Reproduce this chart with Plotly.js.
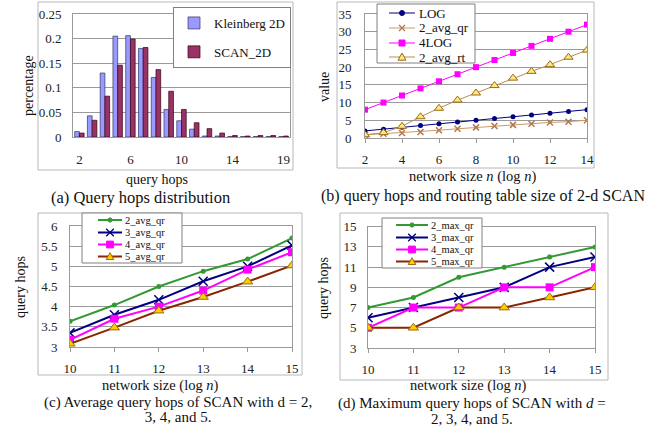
<!DOCTYPE html>
<html><head><meta charset="utf-8">
<script src="https://cdn.plot.ly/plotly-3.0.1.min.js"></script>
<style>html,body{margin:0;padding:0;background:#fff}#chart{width:648px;height:434px}</style>
</head><body><div id="chart"></div>
<script>
// ---------- (a) Query hops distribution ----------
const hopCategories = ["2","3","4","5","6","7","8","9","10","11","12","13","14","15","16","17","19"];
const hopTickLabels = ["2","6","10","14","19"];
const kleinberg2D = [0.011,0.043,0.130,0.205,0.206,0.180,0.121,0.056,0.033,0.016,0.002,0.002,0.001,0.001,0.001,0.001,0.001];
const scan2D      = [0.008,0.034,0.083,0.146,0.199,0.182,0.137,0.093,0.056,0.029,0.017,0.008,0.003,0.002,0.003,0.003,0.002];

// ---------- (b) query hops and routing table size of 2-d SCAN ----------
const networkSizeLog = [2,3,4,5,6,7,8,9,10,11,12,13,14];
const logValues   = [2,2.5,3,3.5,4,4.5,5,5.5,6,6.5,7,7.5,8];
const avgQr2d     = [0.9,1.2,1.4,1.7,2.2,2.6,3.0,3.4,3.7,4.0,4.4,4.6,5.0];
const fourLog     = [8,10,12,14,16,18,20,22,24,26,28,30,32];
const avgRt2d     = [0.9,1.5,3.3,6.0,8.4,10.7,12.7,14.8,16.9,18.8,20.7,22.8,24.8];

// ---------- (c) Average query hops ----------
const networkSizeCD = [10,11,12,13,14,15];
const avgQr2 = [3.64,4.04,4.50,4.88,5.18,5.70];
const avgQr3 = [3.35,3.80,4.17,4.63,5.00,5.52];
const avgQr4 = [3.18,3.70,4.00,4.40,4.92,5.35];
const avgQr5 = [3.08,3.48,3.90,4.24,4.62,5.02];

// ---------- (d) Maximum query hops ----------
const maxQr2 = [7,8,10,11,12,13];
const maxQr3 = [6,7,8,9,11,12];
const maxQr4 = [5,7,7,9,9,11];
const maxQr5 = [5,5,7,7,8,9];

const W = 648, H = 434;
const X = p => p / W;
const Y = p => 1 - p / H;
const FONT = 'Liberation Serif, Times New Roman, serif';
const GRID = '#9a9a9a';

const GREEN = '#339933', NAVY = '#000080', MAGENTA = '#FF00FF', BROWN = '#8B2500';
const TAN = '#CC9966', RT = '#B8904A', TRI_FILL = '#FFCC00', TRI_LINE = '#9A6A10';

function lineTrace(name, x, y, ax, color, width, symbol, size, fill, stroke) {
  const marker = {symbol:symbol, size:size, color:fill};
  if (stroke) marker.line = {color:stroke, width: symbol === 'x-thin' ? 1.5 : 1};
  return {type:'scatter', mode:'lines+markers', name:name, x:x, y:y, xaxis:'x'+ax, yaxis:'y'+ax,
          line:{color:color, width:width}, marker:marker, showlegend:false};
}

const barTraces = [
  {type:'bar', name:'Kleinberg 2D', x:hopCategories, y:kleinberg2D, xaxis:'x', yaxis:'y',
   marker:{color:'#9999FF', line:{color:'#333366', width:0.7}}, legend:'legend', legendgroup:'a1'},
  {type:'bar', name:'SCAN_2D', x:hopCategories, y:scan2D, xaxis:'x', yaxis:'y',
   marker:{color:'#993366', line:{color:'#330011', width:0.7}}, legend:'legend', legendgroup:'a2'}
];
const tracesB = [
  lineTrace('LOG', networkSizeLog, logValues, 2, NAVY, 1, 'circle', 5, NAVY),
  lineTrace('2_avg_qr', networkSizeLog, avgQr2d, 2, TAN, 1, 'x-thin', 6, TAN, '#B07850'),
  lineTrace('4LOG', networkSizeLog, fourLog, 2, MAGENTA, 1, 'square', 6, MAGENTA),
  lineTrace('2_avg_rt', networkSizeLog, avgRt2d, 2, RT, 1, 'triangle-up', 8, '#FFE680', TRI_LINE)
];
const tracesC = [
  lineTrace('2_avg_qr', networkSizeCD, avgQr2, 3, GREEN, 2, 'circle', 5, GREEN),
  lineTrace('3_avg_qr', networkSizeCD, avgQr3, 3, NAVY, 2, 'x-thin', 9, NAVY, NAVY),
  lineTrace('4_avg_qr', networkSizeCD, avgQr4, 3, MAGENTA, 2, 'square', 8, MAGENTA),
  lineTrace('5_avg_qr', networkSizeCD, avgQr5, 3, BROWN, 2, 'triangle-up', 9, TRI_FILL, TRI_LINE)
];
const tracesD = [
  lineTrace('2_max_qr', networkSizeCD, maxQr2, 4, GREEN, 2, 'circle', 5, GREEN),
  lineTrace('3_max_qr', networkSizeCD, maxQr3, 4, NAVY, 2, 'x-thin', 9, NAVY, NAVY),
  lineTrace('4_max_qr', networkSizeCD, maxQr4, 4, MAGENTA, 2, 'square', 8, MAGENTA),
  lineTrace('5_max_qr', networkSizeCD, maxQr5, 4, BROWN, 2, 'triangle-up', 9, TRI_FILL, TRI_LINE)
];
const traces = barTraces.concat(tracesB, tracesC, tracesD);

function axisBase(extra) {
  return Object.assign({
    showline:true, mirror:true, linecolor:GRID, linewidth:1,
    gridcolor:GRID, gridwidth:1, zeroline:false, fixedrange:true,
    tickfont:{family:FONT, size:13, color:'#222'}
  }, extra);
}

function frame(x0, y0, x1, y1) {
  return {type:'rect', xref:'paper', yref:'paper', x0:X(x0), x1:X(x1), y0:Y(y1), y1:Y(y0),
          line:{color:'#b8b8b8', width:1}, fillcolor:'rgba(0,0,0,0)', layer:'below'};
}

function label(text, x, y, size, angle, anchor) {
  return {text:text, x:X(x), y:Y(y), xref:'paper', yref:'paper', showarrow:false,
          xanchor:anchor || 'center', yanchor:'middle', textangle:angle || 0, borderpad:0,
          font:{family:FONT, size:size, color:'#111'}};
}

// two-line caption: text drawn at `size`, line pitch set by the smaller base font
function caption(lines, x, y, size, pitchFont) {
  const txt = lines.map(l => `<span style="font-size:${size}px">${l}</span>`).join('<br>');
  return label(txt, x, y, pitchFont);
}

const shapes = [frame(38, 2, 293, 170), frame(337, 2, 594, 168), frame(38, 213, 302, 375), frame(340, 213, 608, 380)];
const annotations = [];

function keyLegend(list, box, rows, sx0, sx1, tx, fontSize, markScale) {
  shapes.push({type:'rect', xref:'paper', yref:'paper', layer:'above',
               x0:X(box[0]), x1:X(box[2]), y0:Y(box[3]), y1:Y(box[1]),
               fillcolor:'#ffffff', line:{color:'#808080', width:1}});
  list.forEach((t, i) => {
    const cy = rows[i], cx = (sx0 + sx1) / 2;
    shapes.push({type:'line', xref:'paper', yref:'paper', layer:'above',
                 x0:X(sx0), x1:X(sx1), y0:Y(cy), y1:Y(cy), line:{color:t.line.color, width:t.line.width}});
    const r = t.marker.size * markScale / 2;
    const fill = t.marker.color;
    const stroke = t.marker.line ? t.marker.line.color : fill;
    const sym = t.marker.symbol;
    let s;
    if (sym === 'circle' || sym === 'square') {
      s = {type: sym === 'circle' ? 'circle' : 'rect', x0:X(cx - r), x1:X(cx + r), y0:Y(cy + r), y1:Y(cy - r),
           fillcolor:fill, line:{color:stroke, width:1}};
    } else if (sym === 'triangle-up') {
      s = {type:'path', path:`M ${X(cx - r)},${Y(cy + r * 0.8)} L ${X(cx + r)},${Y(cy + r * 0.8)} L ${X(cx)},${Y(cy - r)} Z`,
           fillcolor:fill, line:{color:stroke, width:1}};
    } else {
      s = {type:'path', path:`M ${X(cx - r)},${Y(cy - r)} L ${X(cx + r)},${Y(cy + r)} M ${X(cx - r)},${Y(cy + r)} L ${X(cx + r)},${Y(cy - r)}`,
           line:{color:stroke, width:1.3}};
    }
    shapes.push(Object.assign({xref:'paper', yref:'paper', layer:'above'}, s));
    annotations.push(label(t.name, tx, cy, fontSize, 0, 'left'));
  });
}

keyLegend(tracesB, [377, 4, 475, 63], [13, 28, 43, 57], 389, 415, 418, 13, 1);
keyLegend(tracesC, [82, 213, 182, 263], [220, 232.5, 244.5, 256.5], 98, 122, 124, 10.5, 0.85);
keyLegend(tracesD, [382, 218, 482, 268], [225, 237.5, 249.5, 261.5], 396, 428, 430, 10.5, 0.85);

annotations.push(
  label('percentage', 28, 86, 14, -90),
  label('query hops', 157, 179, 14),
  label('(a) Query hops distribution', 140, 197, 16.5),

  label('value', 325, 87, 14, -90),
  label('network size <i>n</i> (log <i>n</i>)', 472, 176, 14.5),
  label('(b) query hops and routing table size of 2-d SCAN', 483, 196, 16),

  label('query hops', 20, 287, 14, -90),
  label('network size (log <i>n</i>)', 160, 385, 14.5),
  caption(['(c) Average query hops of SCAN with d = 2,', '3, 4, and 5.'], 178, 409, 15, 11.5),

  label('query hops', 323, 288, 14, -90),
  label('network size (log <i>n</i>)', 468, 385, 14.5),
  caption(['(d) Maximum query hops of SCAN with <i>d</i> =', '2, 3, 4, and 5.'], 472, 411, 15, 12)
);

const layout = {
  width:W, height:H, margin:{l:0, r:0, t:0, b:0},
  paper_bgcolor:'#fff', plot_bgcolor:'#fff',
  barmode:'group', bargap:0.26, bargroupgap:0,
  xaxis: axisBase({domain:[X(73), X(290)], anchor:'y', type:'category', categoryarray:hopCategories,
          tickmode:'array', tickvals:hopTickLabels, showgrid:false, ticks:'', ticklabelstandoff:10}),
  yaxis: axisBase({domain:[Y(137), Y(14)], anchor:'x', range:[0,0.25], dtick:0.05, ticks:'', ticklabelstandoff:8}),

  xaxis2: axisBase({domain:[X(365), X(587)], anchor:'y2', range:[2,14], dtick:2, showgrid:false,
          ticks:'outside', ticklen:4, tickcolor:GRID, ticklabelstandoff:5}),
  yaxis2: axisBase({domain:[Y(138), Y(14)], anchor:'x2', range:[0,35], dtick:5, ticks:'', ticklabelstandoff:10}),

  xaxis3: axisBase({domain:[X(70), X(292)], anchor:'y3', range:[10,15], dtick:1, showgrid:false,
          ticks:'outside', ticklen:4, tickcolor:GRID, ticklabelstandoff:5}),
  yaxis3: axisBase({domain:[Y(347), Y(226)], anchor:'x3', range:[3,6], dtick:0.5, ticks:'', ticklabelstandoff:9}),

  xaxis4: axisBase({domain:[X(368), X(595)], anchor:'y4', range:[10,15], dtick:1, showgrid:false,
          ticks:'outside', ticklen:4, tickcolor:GRID, ticklabelstandoff:5}),
  yaxis4: axisBase({domain:[Y(348), Y(226.7)], anchor:'x4', range:[3,15], tick0:3, dtick:2, ticks:'', ticklabelstandoff:8}),

  legend: {x:X(173), y:Y(7), xanchor:'left', yanchor:'top', bgcolor:'#ffffff',
           bordercolor:'#808080', borderwidth:1, font:{family:FONT, size:13, color:'#111'},
           traceorder:'grouped', tracegroupgap:9},

  shapes: shapes,
  annotations: annotations
};

Plotly.newPlot('chart', traces, layout, {displayModeBar:false, staticPlot:true});
</script>
</body></html>
